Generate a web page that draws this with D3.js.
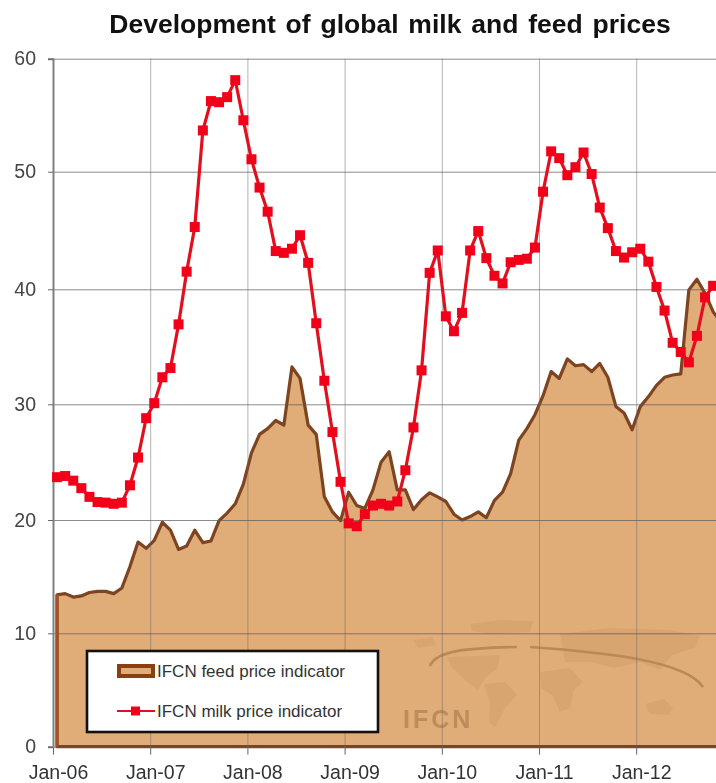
<!DOCTYPE html>
<html>
<head>
<meta charset="utf-8">
<script src="https://d3js.org/d3.v7.min.js"></script>
<style>
html, body { margin: 0; padding: 0; background: #fff; overflow: hidden; }
#canvas { display: block; filter: blur(0.5px); font-family: "Liberation Sans", Arial, sans-serif; }
</style>
</head>
<body>
<svg id="canvas" width="716" height="783"></svg>
<script>
// monthly values from Jan-06
var feedPrice = [
    13.4,13.5,13.2,13.3,13.6,13.7,13.7,13.5,14.0,15.9,
    18.05,17.5,18.2,19.8,19.1,17.4,17.7,19.1,18.0,18.15,
    19.95,20.6,21.4,23.1,25.8,27.4,27.9,28.6,28.2,33.25,
    32.25,28.2,27.4,22.0,20.7,19.95,22.4,21.25,21.0,22.6,
    25.0,25.9,22.6,22.6,20.9,21.75,22.35,22.0,21.6,20.5,
    20.0,20.3,20.7,20.2,21.7,22.4,24.0,26.9,27.9,29.1,
    30.75,32.85,32.25,33.95,33.35,33.45,32.85,33.55,32.35,29.8,
    29.25,27.8,29.8,30.65,31.65,32.35,32.55,32.65,39.95,40.85,
    39.65,38.05,37.1
];
var milkPrice = [
    23.7,23.8,23.4,22.75,22.0,21.55,21.5,21.4,21.5,23.0,
    25.4,28.8,30.1,32.35,33.15,36.95,41.5,45.3,53.65,56.25,
    56.15,56.6,58.1,54.55,51.1,48.65,46.6,43.25,43.1,43.45,
    44.6,42.25,37.05,32.05,27.6,23.3,19.7,19.45,20.5,21.25,
    21.4,21.25,21.6,24.3,28.0,32.95,41.4,43.3,37.65,36.35,
    37.95,43.3,44.95,42.65,41.15,40.5,42.3,42.5,42.6,43.55,
    48.3,51.8,51.2,49.7,50.4,51.7,49.8,46.95,45.2,43.25,
    42.7,43.15,43.45,42.35,40.2,38.15,35.35,34.55,33.65,35.95,
    39.3,40.3
];
var yearLabels = ["Jan-06","Jan-07","Jan-08","Jan-09","Jan-10","Jan-11","Jan-12"];
var yTicks = [0,10,20,30,40,50,60];
var legendLabels = ["IFCN feed price indicator","IFCN milk price indicator"];

var svg = d3.select("#canvas");

// months on x, a point sits in the middle of its month
let x = d3.scaleLinear().domain([0,84]).range([53,733.4]);
// the scan is slightly warped so the y axis is read gridline by gridline
let y = d3.scaleLinear().domain(yTicks).range([746.7,633.3,520,404.3,289.3,171.7,58.7]);
let px = (d,i) => x(i + 0.5);

svg.append("text")
    .attr("x", 390).attr("y", 33)
    .attr("text-anchor", "middle")
    .style("font-size", "26.5px")
    .style("font-weight", "bold")
    .style("word-spacing", "2.5px")
    .attr("fill", "#111")
    .text("Development of global milk and feed prices");

// feed area
let feedArea = d3.area().x(px).y0(y(0)).y1(d => y(d));
svg.append("path")
    .datum(feedPrice)
    .attr("d", feedArea)
    .attr("fill", "#E0AC78")
    .attr("stroke", "#7E4420")
    .attr("stroke-width", 3.2)
    .attr("stroke-linejoin", "round");

// watermark
let mark = svg.append("g").attr("fill", "#CF9C68").attr("opacity", 0.45);
[
    "M413,640 L433,637 L436,645 L418,648 Z",
    "M470,624 L500,620 L533,621 L530,632 L490,634 L472,631 Z",
    "M447,657 L500,655 L498,668 L485,678 L478,690 L465,680 L452,668 Z",
    "M484,684 L505,682 L517,695 L505,708 L495,727 L489,722 L490,703 Z",
    "M540,672 L570,668 L583,682 L574,690 L570,708 L560,712 L552,695 L541,688 Z",
    "M560,634 L610,628 L670,630 L700,636 L695,648 L672,655 L660,670 L640,662 L615,668 L590,662 L565,662 Z",
    "M645,704 L664,699 L673,708 L668,715 L650,714 Z"
].forEach(function (d) {
    mark.append("path").attr("d", d);
});
svg.append("path")
    .attr("d", "M430,666 C436,650 470,648 517,647")
    .attr("fill", "none").attr("stroke", "#B98A58").attr("stroke-width", 2.6);
svg.append("path")
    .attr("d", "M530,647 C600,652 685,660 703,687")
    .attr("fill", "none").attr("stroke", "#B98A58").attr("stroke-width", 2.6);
svg.append("text")
    .attr("x", 403).attr("y", 728)
    .style("font-size", "25px").style("font-weight", "bold").style("letter-spacing", "3px")
    .attr("fill", "#BC8C5C")
    .text("IFCN");

// grid on top of the area, it shows through
let xGrid = svg.append("g")
    .attr("transform", "translate(0," + y(0) + ")")
    .call(d3.axisBottom(x).tickValues(yearLabels.map((d,i) => i * 12)).tickSize(-(y(0) - y(60))).tickFormat(""));
xGrid.select(".domain").remove();
xGrid.selectAll("line").attr("stroke", "#6a6a6a").attr("stroke-opacity", 0.5);

let yGrid = svg.append("g")
    .attr("transform", "translate(53,0)")
    .call(d3.axisLeft(y).tickValues(yTicks).tickSize(-670).tickFormat(""));
yGrid.select(".domain").remove();
yGrid.selectAll("line").attr("stroke", "#5a5a5a").attr("stroke-opacity", 0.7);

// axes
let xAxis = svg.append("g")
    .attr("transform", "translate(0," + y(0) + ")")
    .call(d3.axisBottom(x).tickValues(yearLabels.map((d,i) => i * 12)).tickSize(8).tickPadding(10).tickFormat((d,i) => yearLabels[i]));
xAxis.select(".domain").remove();
xAxis.selectAll("line").attr("stroke", "#666");
xAxis.selectAll("text")
    .attr("dx", 5)
    .style("font-family", "'Liberation Sans', Arial, sans-serif")
    .style("font-size", "19.5px")
    .attr("fill", "#333");

let yAxis = svg.append("g")
    .attr("transform", "translate(53,0)")
    .call(d3.axisLeft(y).tickValues(yTicks).tickSize(5).tickPadding(12));
yAxis.select(".domain")
    .attr("stroke", "#808080").attr("stroke-width", 2);
yAxis.selectAll("line").attr("stroke", "#666");
yAxis.selectAll("text")
    .style("font-family", "'Liberation Sans', Arial, sans-serif")
    .style("font-size", "19.5px")
    .attr("fill", "#444");

// redraw the left side of the feed area over the axis
svg.append("path")
    .datum(feedPrice.slice(0,1))
    .attr("d", d => "M" + x(0.5) + "," + y(0) + "V" + y(d[0]))
    .attr("stroke", "#A5501E").attr("stroke-width", 3);

// milk line
let milkLine = d3.line().x(px).y(d => y(d));
svg.append("path")
    .datum(milkPrice)
    .attr("d", milkLine)
    .attr("fill", "none")
    .attr("stroke", "#E2101F")
    .attr("stroke-width", 3.2);
svg.selectAll(".milk")
    .data(milkPrice)
    .enter()
    .append("rect")
    .attr("class", "milk")
    .attr("x", (d,i) => px(d,i) - 5)
    .attr("y", d => y(d) - 5)
    .attr("width", 10)
    .attr("height", 10)
    .attr("fill", "#F2001A");

// legend
svg.append("rect")
    .attr("x", 87).attr("y", 651)
    .attr("width", 291).attr("height", 81)
    .attr("fill", "#fff")
    .attr("stroke", "#111")
    .attr("stroke-width", 2.6);
svg.append("rect")
    .attr("x", 119).attr("y", 666)
    .attr("width", 34).attr("height", 10)
    .attr("fill", "#E0AC78")
    .attr("stroke", "#8A3F12")
    .attr("stroke-width", 4);
svg.append("line")
    .attr("x1", 117).attr("x2", 155).attr("y1", 711).attr("y2", 711)
    .attr("stroke", "#E2101F").attr("stroke-width", 2);
svg.append("rect")
    .attr("x", 131).attr("y", 706.5)
    .attr("width", 9).attr("height", 9)
    .attr("fill", "#F2001A");
svg.selectAll(".legendText")
    .data(legendLabels)
    .enter()
    .append("text")
    .attr("class", "legendText")
    .attr("x", 157)
    .attr("y", (d,i) => 677 + i * 40)
    .style("font-size", "17px")
    .attr("fill", "#333")
    .text(d => d);
</script>
</body>
</html>
